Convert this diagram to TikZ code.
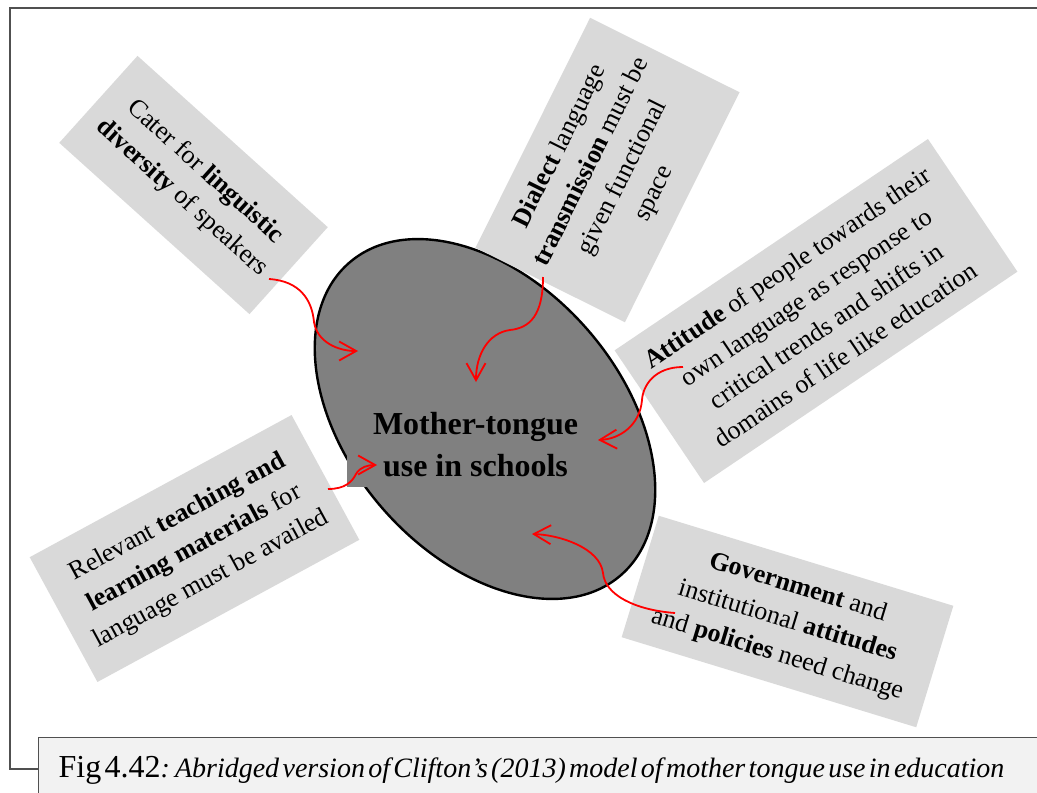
\documentclass[tikz,border=0pt]{standalone}
\usepackage{fontspec}
\setmainfont{Liberation Serif}
\usepackage{xcolor}
\usepackage{tikz}
\usetikzlibrary{shapes.geometric, arrows.meta}
\definecolor{boxgray}{HTML}{D9D9D9}
\definecolor{hubgray}{HTML}{808080}
\definecolor{capgray}{HTML}{F2F2F2}
\definecolor{framegray}{HTML}{505050}

\begin{document}
\begin{tikzpicture}[
    x=1pt, y=-1pt,
    factor/.style={fill=boxgray, rectangle, inner sep=0pt, align=center, font=\fontsize{26}{35}\selectfont},
    hub/.style={draw=black, line width=2.4pt, fill=hubgray, ellipse, inner sep=0pt},
    hublabel/.style={fill=hubgray, rectangle, inner ysep=10pt, minimum width=257pt, align=center, font=\fontsize{32}{42}\selectfont\bfseries},
    capbox/.style={draw=framegray, line width=1.4pt, fill=capgray, rectangle, inner xsep=20pt, text width=1000pt, minimum height=65pt, align=left},
    flow/.style={draw=red, line width=1.8pt, -{Straight Barb[length=17pt, width=19pt]}}
]
    \useasboundingbox (0,0) rectangle (1037,793);
    \clip (0,0) rectangle (1037,793);

    % Frame and caption
    \draw [framegray, line width=1.3pt] (1060,8) -| (10,769) -- (38,769);
    \node (caption) [capbox, anchor=north west] at (38,737) {{\fontsize{32}{38}\selectfont Fig 4.42}{\fontsize{28}{32}\selectfont\itshape: Abridged version of Clifton’s (2013) model of mother tongue use in education}};

    % Nodes
    \node (mtu) [hub, rotate=-49, minimum width=414pt, minimum height=272pt] at (485,419) {};
    \node (mtulabel) [hublabel, anchor=south] at (475.5,487) {Mother-tongue\\use in schools};

    \node (cater) [factor, rotate=-42, minimum width=256pt, minimum height=117pt] at (193.5,185) {Cater for \textbf{linguistic}\\\textbf{diversity} of speakers};
    \node (dialect) [factor, rotate=63.5, minimum width=257pt, minimum height=167pt] at (607.5,170) {\textbf{Dialect} language\\\textbf{transmission} must be\\given functional\\space};
    \node (attitude) [factor, rotate=34, minimum width=378pt, minimum height=160pt] at (816,311) {\textbf{Attitude} of people towards their\\own language as response to\\critical trends and shifts in\\domains of life like education};
    \node (teaching) [factor, rotate=28.5, minimum width=298pt, minimum height=142pt] at (194.5,548.5) {Relevant \textbf{teaching and}\\\textbf{learning materials} for\\language must be availed};
    \node (govt) [factor, rotate=-17, minimum width=308pt, minimum height=127pt] at (787.5,621.5) {\textbf{Government} and\\institutional \textbf{attitudes}\\and \textbf{policies} need change};

    % Arrow ends
    \coordinate (cater-out) at (269,279);
    \coordinate (cater-in) at (358,351);
    \coordinate (dialect-out) at (543,277);
    \coordinate (dialect-in) at (476,382);
    \coordinate (attitude-out) at (683,367);
    \coordinate (attitude-in) at (598,440);
    \coordinate (teaching-out) at (328,489);
    \coordinate (teaching-in) at (377,465);
    \coordinate (govt-out) at (675,613);
    \coordinate (govt-in) at (532,534);

    % Arrows
    \draw [flow] (cater-out) .. controls (300,281) and (312,300) .. (314,322) .. controls (317,342) and (338,351) .. (cater-in);
    \draw [flow] (dialect-out) .. controls (543,315) and (530,328) .. (510,330) .. controls (488,333) and (476,355) .. (dialect-in);
    \draw [flow] (attitude-out) .. controls (655,367) and (643,385) .. (642,400) .. controls (640,425) and (620,439) .. (attitude-in);
    \draw [flow] (teaching-out) .. controls (345,489) and (352,482) .. (356,474) .. controls (360,467) and (368,465) .. (teaching-in);
    \draw [flow] (govt-out) .. controls (635,610) and (605,595) .. (603,573) .. controls (600,548) and (560,535) .. (govt-in);
\end{tikzpicture}
\end{document}
